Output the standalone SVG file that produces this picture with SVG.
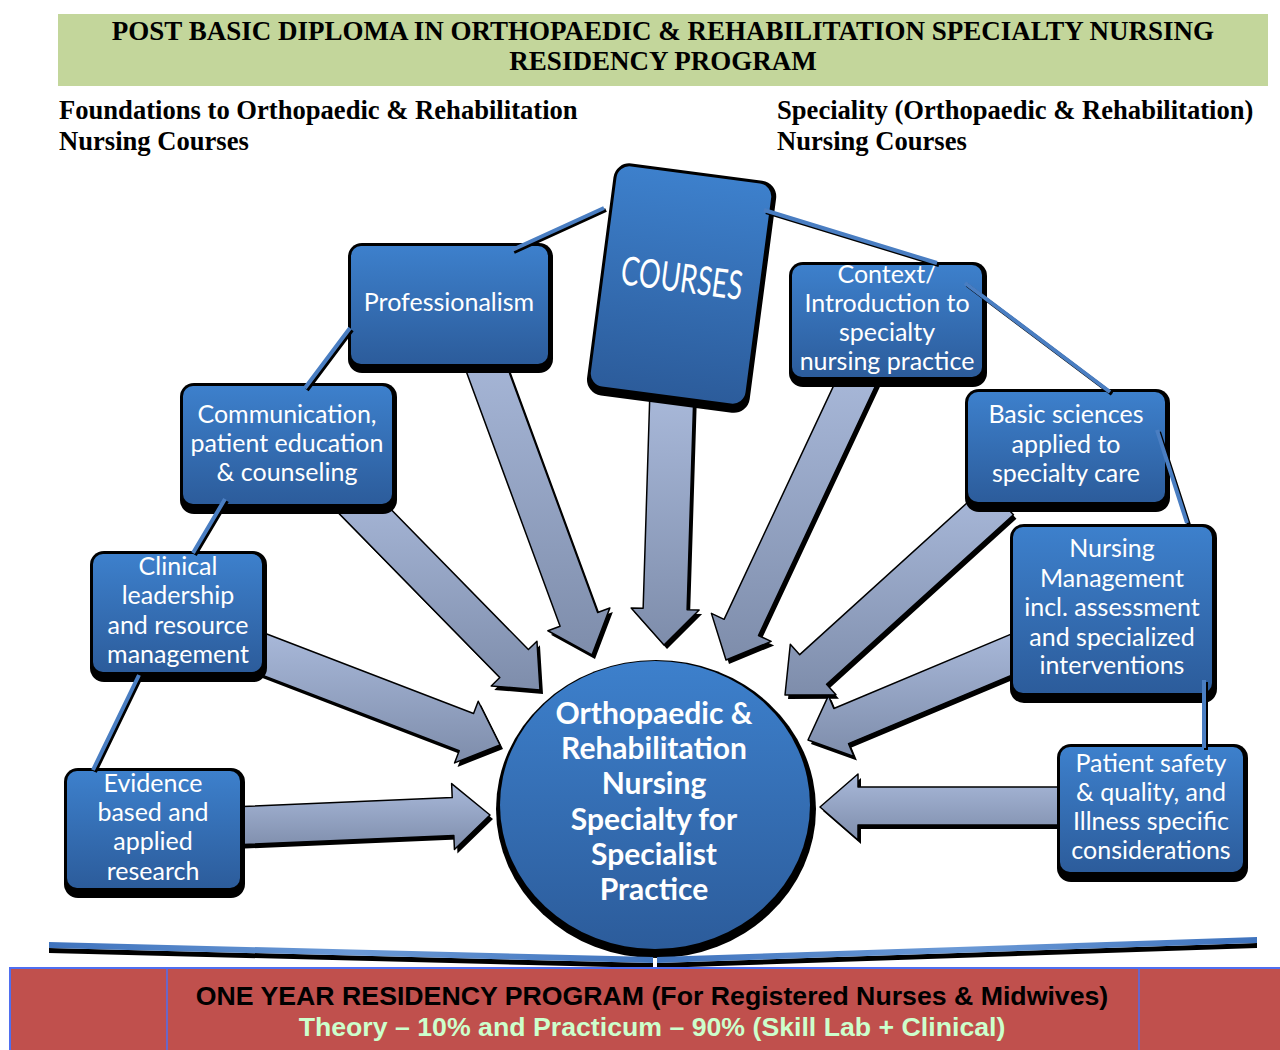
<svg xmlns="http://www.w3.org/2000/svg" xmlns:xlink="http://www.w3.org/1999/xlink" width="1280" height="1050" viewBox="0 0 1280 1050">
<style>
.hd{font-family:"Liberation Serif","Times New Roman",serif;font-weight:bold;font-size:27px;fill:#000}
.sh{font-family:"Liberation Serif","Times New Roman",serif;font-weight:bold;font-size:26.6px;fill:#000}
.t{font-family:Lato,"Open Sans",sans-serif;font-size:25px;fill:#fff;text-anchor:middle}
.ct{font-family:Lato,"Open Sans",sans-serif;font-weight:bold;font-size:30px;fill:#fff;text-anchor:middle}
.box{fill:url(#bg)}
.bsh{fill:#000}
.arr{fill:url(#ag);stroke:#000;stroke-width:1.5;stroke-linejoin:round}
.ash{fill:#000}
.cb{stroke:#000;stroke-width:4;fill:none}
.cl{stroke:#4a7ec2;stroke-width:4;fill:none}
.bt{font-family:"Liberation Sans",Arial,sans-serif;font-weight:bold;font-size:26.7px;text-anchor:middle}
</style>
<defs>
<linearGradient id="bg" x1="0" y1="0" x2="0" y2="1"><stop offset="0" stop-color="#3d80cc"/><stop offset="1" stop-color="#2c5c9b"/></linearGradient>
<linearGradient id="ag" x1="0" y1="0" x2="0" y2="1"><stop offset="0" stop-color="#a9b9da"/><stop offset="1" stop-color="#7e8dab"/></linearGradient>
<linearGradient id="barg" x1="0" y1="0" x2="1" y2="0"><stop offset="0" stop-color="#3f73bd"/><stop offset="0.5" stop-color="#6c9ad6"/><stop offset="1" stop-color="#3f73bd"/></linearGradient>
<polygon id="a1" points="457.23,346.91 560.10,626.25 547.90,630.74 592,655 609.84,607.94 597.64,612.43 494.77,333.09"/>
<polygon id="a2" points="650.01,389.31 643.14,608.33 631.15,607.95 664,645 699.11,610.09 687.12,609.71 693.99,390.69"/>
<polygon id="a3" points="844.80,361.93 724.09,619.34 711.41,613.40 726,660 771.17,641.42 758.49,635.48 879.20,378.07"/>
<polygon id="a4" points="986.57,485.19 799.71,654.67 790.30,644.30 785,695 835.98,694.66 826.57,684.29 1013.43,514.81"/>
<polygon id="a5" points="1021.95,629.58 833.85,708.55 828.43,695.64 808,740 853.97,756.50 848.55,743.59 1036.65,664.62"/>
<polygon id="a6" points="1070,787 858,787 858,774 820,807 858,840 858,825 1070,825"/>
<polygon id="a7" points="229.19,807.02 452.22,797.60 451.62,783.61 490,815 454.44,849.55 453.84,835.56 230.81,844.98"/>
<polygon id="a8" points="255.07,629.53 473.56,713.43 478.22,701.29 500,745 454.56,762.91 459.22,750.77 240.73,666.87"/>
<polygon id="a9" points="329.72,504.0 499.82,677.58 491.25,685.98 540,690 536.95,641.18 528.38,649.58 358.28,476.0"/>
</defs>
<rect width="1280" height="1050" fill="#fff"/>

<g id="header">
<rect x="58" y="14" width="1210" height="72" fill="#c3d69b"/>
<text class="hd" x="663" y="40" text-anchor="middle">POST BASIC DIPLOMA IN ORTHOPAEDIC &amp; REHABILITATION SPECIALTY NURSING</text>
<text class="hd" x="663" y="70" text-anchor="middle">RESIDENCY PROGRAM</text>
</g>
<g id="subheadings">
<text class="sh" x="59" y="119">Foundations to Orthopaedic &amp; Rehabilitation</text>
<text class="sh" x="59" y="150">Nursing Courses</text>
<text class="sh" x="777" y="119">Speciality (Orthopaedic &amp; Rehabilitation)</text>
<text class="sh" x="777" y="150">Nursing Courses</text>
</g>

<g id="arrows">
<use xlink:href="#a1" href="#a1" class="ash" transform="translate(3,4)"/><use xlink:href="#a1" href="#a1" class="arr"/>
<use xlink:href="#a2" href="#a2" class="ash" transform="translate(3,4)"/><use xlink:href="#a2" href="#a2" class="arr"/>
<use xlink:href="#a3" href="#a3" class="ash" transform="translate(3,4)"/><use xlink:href="#a3" href="#a3" class="arr"/>
<use xlink:href="#a4" href="#a4" class="ash" transform="translate(3,4)"/><use xlink:href="#a4" href="#a4" class="arr"/>
<use xlink:href="#a5" href="#a5" class="ash" transform="translate(3,4)"/><use xlink:href="#a5" href="#a5" class="arr"/>
<use xlink:href="#a6" href="#a6" class="ash" transform="translate(3,4)"/><use xlink:href="#a6" href="#a6" class="arr"/>
<use xlink:href="#a7" href="#a7" class="ash" transform="translate(3,4)"/><use xlink:href="#a7" href="#a7" class="arr"/>
<use xlink:href="#a8" href="#a8" class="ash" transform="translate(3,4)"/><use xlink:href="#a8" href="#a8" class="arr"/>
<use xlink:href="#a9" href="#a9" class="ash" transform="translate(3,4)"/><use xlink:href="#a9" href="#a9" class="arr"/>
</g>

<g id="courses" transform="translate(681,285) rotate(7.5)">
<rect class="bsh" x="-81" y="-114" width="164" height="234" rx="16"/>
<rect class="box" x="-78" y="-111" width="156" height="222" rx="13"/>
<text x="0" y="7" font-family="Lato,'Open Sans',sans-serif" font-size="40" fill="#fff" text-anchor="middle" textLength="122" lengthAdjust="spacingAndGlyphs">COURSES</text>
</g>

<g id="professionalism">
<rect class="bsh" x="348" y="243" width="205" height="130" rx="14"/>
<rect class="box" x="351" y="246" width="197" height="118" rx="10"/>
<text class="t" x="449" y="311">Professionalism</text>
</g>

<g id="communication">
<rect class="bsh" x="180" y="383" width="217" height="131" rx="14"/>
<rect class="box" x="183" y="386" width="209" height="118" rx="10"/>
<text class="t" x="287" y="423">Communication,</text>
<text class="t" x="287" y="452">patient education</text>
<text class="t" x="287" y="481">&amp; counseling</text>
</g>

<g id="clinical">
<rect class="bsh" x="90" y="551" width="177" height="131" rx="14"/>
<rect class="box" x="93" y="554" width="169" height="118" rx="10"/>
<text class="t" x="178" y="575">Clinical</text>
<text class="t" x="178" y="604">leadership</text>
<text class="t" x="178" y="634">and resource</text>
<text class="t" x="178" y="663">management</text>
</g>

<g id="evidence">
<rect class="bsh" x="64" y="768" width="181" height="130" rx="14"/>
<rect class="box" x="67" y="771" width="173" height="117" rx="10"/>
<text class="t" x="153" y="792">Evidence</text>
<text class="t" x="153" y="821">based and</text>
<text class="t" x="153" y="850">applied</text>
<text class="t" x="153" y="880">research</text>
</g>

<g id="context">
<rect class="bsh" x="789" y="262" width="198" height="125" rx="14"/>
<rect class="box" x="792" y="265" width="190" height="112" rx="10"/>
<text class="t" x="887" y="283">Context/</text>
<text class="t" x="887" y="312">Introduction to</text>
<text class="t" x="887" y="341">specialty</text>
<text class="t" x="887" y="370">nursing practice</text>
</g>

<g id="basic">
<rect class="bsh" x="965" y="389" width="205" height="123" rx="14"/>
<rect class="box" x="968" y="392" width="197" height="110" rx="10"/>
<text class="t" x="1066" y="423">Basic sciences</text>
<text class="t" x="1066" y="453">applied to</text>
<text class="t" x="1066" y="482">specialty care</text>
</g>

<g id="nursing-management">
<rect class="bsh" x="1010" y="524" width="207" height="179" rx="14"/>
<rect class="box" x="1013" y="527" width="199" height="166" rx="10"/>
<text class="t" x="1112" y="557">Nursing</text>
<text class="t" x="1112" y="587">Management</text>
<text class="t" x="1112" y="616">incl. assessment</text>
<text class="t" x="1112" y="646">and specialized</text>
<text class="t" x="1112" y="674">interventions</text>
</g>

<g id="patient-safety">
<rect class="bsh" x="1057" y="744" width="191" height="138" rx="14"/>
<rect class="box" x="1060" y="747" width="183" height="125" rx="10"/>
<text class="t" x="1151" y="772">Patient safety</text>
<text class="t" x="1151" y="801">&amp; quality, and</text>
<text class="t" x="1151" y="830">Illness specific</text>
<text class="t" x="1151" y="859">considerations</text>
</g>

<g id="center">
<ellipse cx="656" cy="809" rx="160" ry="149" fill="#000"/>
<ellipse cx="655" cy="805" rx="155" ry="144" fill="url(#bg)"/>
<text class="ct" x="654" y="724">Orthopaedic &amp;</text>
<text class="ct" x="654" y="759">Rehabilitation</text>
<text class="ct" x="654" y="794">Nursing</text>
<text class="ct" x="654" y="830">Specialty for</text>
<text class="ct" x="654" y="865">Specialist</text>
<text class="ct" x="654" y="900">Practice</text>
</g>

<g id="connectors">
<path class="cb" d="M514,252 L606,210 M352,330 L307,390 M227,501 L195,555 M141,677 L95,772 M766,212 L939,265 M967,285 L1112,394 M1159,432 L1189,525 M1206,682 L1206,750"/>
<path class="cl" d="M512,250 L604,208 M350,328 L305,388 M225,499 L193,553 M139,675 L93,770 M764,210 L937,263 M965,283 L1110,392 M1157,430 L1187,523 M1204,680 L1204,748"/>
</g>

<g id="base-bars">
<polygon points="49,948 653,963 653,968 49,953" fill="#000"/>
<polygon points="49,942 653,957 653,963 49,948" fill="url(#barg)"/>
<polygon points="657,963 1257,943 1257,948 657,968" fill="#000"/>
<polygon points="657,957 1257,937 1257,943 657,963" fill="url(#barg)"/>
</g>

<g id="footer">
<rect x="10" y="968" width="1280" height="90" fill="#c0504d" stroke="#4f6ef0" stroke-width="2"/>
<line x1="167" y1="968" x2="167" y2="1050" stroke="#4f6ef0" stroke-width="1.5"/>
<line x1="1139" y1="968" x2="1139" y2="1050" stroke="#4f6ef0" stroke-width="1.5"/>
<text class="bt" x="652" y="1005" fill="#000">ONE YEAR RESIDENCY PROGRAM (For Registered Nurses &amp; Midwives)</text>
<text class="bt" x="652" y="1036" fill="#ccffcc">Theory – 10% and Practicum – 90% (Skill Lab + Clinical)</text>
</g>
</svg>
